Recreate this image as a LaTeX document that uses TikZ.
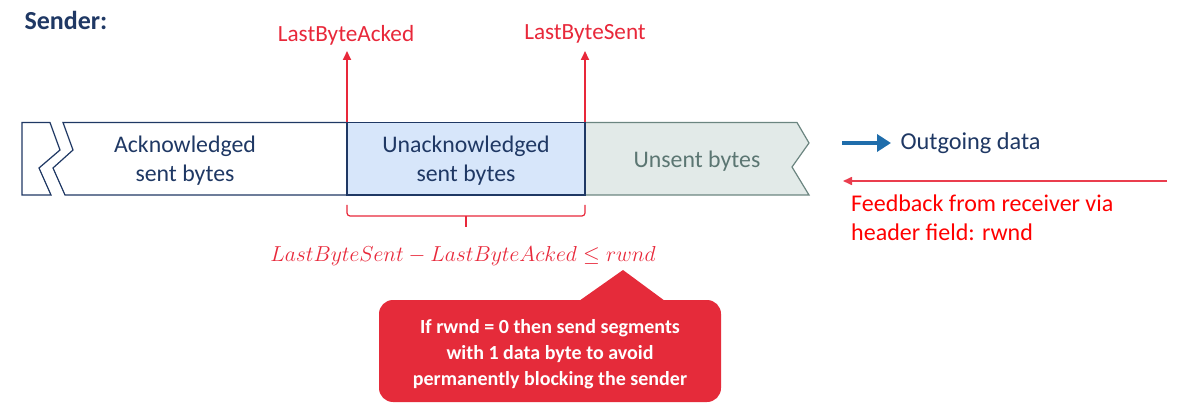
\documentclass[tikz,border=0pt]{standalone}
\usepackage{fontspec}
\setmainfont{Carlito}
\usetikzlibrary{arrows.meta}
\definecolor{navy}{HTML}{1F3864}
\definecolor{ackfill}{HTML}{D7E6FA}
\definecolor{unsentfill}{HTML}{E2EAE8}
\definecolor{unsentline}{HTML}{6B8580}
\definecolor{unsenttext}{HTML}{5B7672}
\definecolor{ptrred}{HTML}{E8283A}
\definecolor{fbred}{HTML}{FF0000}
\definecolor{noteRed}{HTML}{E52B3A}
\definecolor{outblue}{HTML}{1F6DAB}
\tikzset{
  seg/.style={draw=navy, line width=1.2pt, line join=miter},
  boxtext/.style={font=\fontsize{23.8}{29}\selectfont, align=center, text=navy},
  ptrlabel/.style={font=\fontsize{23.2}{27}\selectfont, text=ptrred},
  ptrarrow/.style={draw=ptrred, line width=2pt, -{Triangle[length=9pt,width=8pt]}},
}
\begin{document}
\begin{tikzpicture}[x=1pt,y=-1pt]
\useasboundingbox (0,0) rectangle (1189,414);

% title
\node[anchor=west, font=\fontsize{26}{30}\selectfont\bfseries, text=navy] (sender) at (21,20) {Sender:};

% broken-off start of the byte stream
\path[seg, fill=white] (22,122.5) -- (50,122.5) -- (60,150) -- (39,168) -- (51,195) -- (22,195) -- cycle;
% acknowledged bytes
\path[seg, fill=white] (63,122.5) -- (347,122.5) -- (347,195) -- (65,195) -- (53,168) -- (73,150) -- cycle;
% unsent bytes
\path[draw=unsentline, line width=1.2pt, fill=unsentfill] (585,122.5) -- (797,122.5) -- (809,143) -- (792,167) -- (809,195) -- (585,195) -- cycle;
% unacknowledged bytes
\path[seg, fill=ackfill] (347,122.5) rectangle (585,195);

\node[boxtext] (acked) at (185,161) {Acknowledged\\sent bytes};
\node[boxtext] (unacked) at (466,161) {Unacknowledged\\sent bytes};
\node[boxtext, text=unsenttext] (unsent) at (697,161) {Unsent bytes};

% pointers
\coordinate (ackfoot) at (347,122.5);
\coordinate (sentfoot) at (585,122.5);
\node[ptrlabel] (acklbl) at (346,35) {LastByteAcked};
\node[ptrlabel] (sentlbl) at (585,34) {LastByteSent};
\draw[ptrarrow] (ackfoot) -- (347,51);
\draw[ptrarrow] (sentfoot) -- (585,51);

% direction legend
\coordinate (outA) at (842,143);
\coordinate (outB) at (891,143);
\draw[outblue, line width=4.5pt, -{Triangle[length=14pt,width=17pt]}] (outA) -- (outB);
\node[anchor=west, font=\fontsize{24.3}{28}\selectfont, text=navy] (outtxt) at (897,143) {Outgoing data};

\coordinate (fbA) at (1167,181);
\coordinate (fbB) at (843,181);
\draw[draw=ptrred!90!white, line width=1.6pt, -{Triangle[length=9pt,width=8pt]}] (fbA) -- (fbB);
\node[anchor=north west, align=left, font=\fontsize{24}{28.5}\selectfont, text=fbred, inner sep=0pt] (fbtxt) at (851,195) {Feedback from receiver via\\header field: rwnd};

% window brace
\draw[ptrred, line width=1.2pt, rounded corners=3pt] (347,205) -- (347,216) -- (585,216) -- (585,205);
\draw[ptrred, line width=1.2pt] (466,216) -- (466,227);

\node[text=ptrred, font=\fontsize{20.74}{26}\selectfont, scale=1.045] (formula) at (463,256)
  {$LastByteSent - LastByteAcked \le rwnd$};

% callout
\fill[noteRed, rounded corners=14pt] (379,300) rectangle (721,402);
\fill[noteRed] (579,301) -- (623,270) -- (665,301) -- cycle;
\node[text=white, align=center, font=\fontsize{20}{26}\selectfont\bfseries] (note) at (550,354)
  {If rwnd = 0 then send segments\\with 1 data byte to avoid\\permanently blocking the sender};
\end{tikzpicture}
\end{document}
